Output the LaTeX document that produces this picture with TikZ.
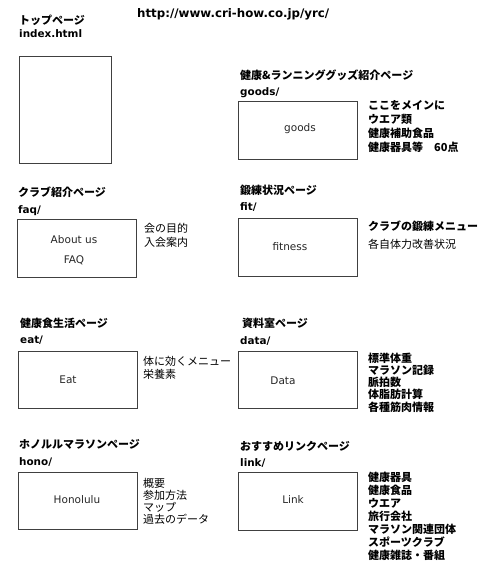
\documentclass[tikz,border=0pt]{standalone}
\usepackage{fontspec}
\setmainfont{DejaVu Sans}
\newfontfamily\jp{Noto Sans CJK JP}
\begin{document}
\begin{tikzpicture}[x=1pt,y=-1pt,
  jtitle/.style={anchor=base west, inner sep=0, font=\jp\bfseries\fontsize{11}{13}\selectfont},
  dirlbl/.style={anchor=base west, inner sep=0, font=\bfseries\fontsize{10.4}{12}\selectfont},
  pagebox/.style={draw=black!75, line width=0.8pt, anchor=north west, inner sep=0},
  boxlbl/.style={inner sep=0, align=center, text=black!85, font=\fontsize{10.5}{20}\selectfont},
  notes/.style={anchor=base west, inner sep=0, align=left, font=\jp\fontsize{11}{#1}\selectfont},
  bnotes/.style={anchor=base west, inner sep=0, align=left, font=\jp\bfseries\fontsize{11}{#1}\selectfont}
]
\useasboundingbox (0,0) rectangle (479,566);

% URL
\node[dirlbl, font=\bfseries\fontsize{11.8}{13}\selectfont] (url) at (137,17.5) {http://www.cri-how.co.jp/yrc/};

% top page
\node[jtitle] (toptitle) at (19,24) {トップページ};
\node[dirlbl] (topdir) at (19,37.5) {index.html};
\node[pagebox, minimum width=92pt, minimum height=107pt] (topbox) at (19,56) {};

% goods
\node[jtitle] (goodstitle) at (240,79) {健康\&ランニンググッズ紹介ページ};
\node[dirlbl] (goodsdir) at (240,95.5) {goods/};
\node[pagebox, minimum width=119pt, minimum height=58pt] (goodsbox) at (238,101) {};
\node[boxlbl] (goodslbl) at (300,129) {goods};
\node[bnotes=14] (goodsnotes) at (368,151) {ここをメインに\\ウエア類\\健康補助食品\\健康器具等　60点};

% faq
\node[jtitle] (faqtitle) at (18,196) {クラブ紹介ページ};
\node[dirlbl] (faqdir) at (18,213.5) {faq/};
\node[pagebox, minimum width=119pt, minimum height=58pt] (faqbox) at (17,219) {};
\node[boxlbl] (faqlbl) at (74,250) {About us\\FAQ};
\node[notes=14] (faqnotes) at (144,246) {会の目的\\入会案内};

% fit
\node[jtitle] (fittitle) at (240,194) {鍛練状況ページ};
\node[dirlbl] (fitdir) at (240,210.5) {fit/};
\node[pagebox, minimum width=119pt, minimum height=58pt] (fitbox) at (238,218) {};
\node[boxlbl] (fitlbl) at (290,247) {fitness};
\node[bnotes=13] (fitnotes1) at (368,230) {クラブの鍛練メニュー};
\node[notes=13] (fitnotes2) at (368,248) {各自体力改善状況};

% eat
\node[jtitle] (eattitle) at (20,327) {健康食生活ページ};
\node[dirlbl] (eatdir) at (20,343.5) {eat/};
\node[pagebox, minimum width=119pt, minimum height=57pt] (eatbox) at (18,351) {};
\node[boxlbl] (eatlbl) at (68,380) {Eat};
\node[notes=13] (eatnotes) at (143,378) {体に効くメニュー\\栄養素};

% data
\node[jtitle] (datatitle) at (242,327) {資料室ページ};
\node[dirlbl] (datadir) at (240,344.5) {data/};
\node[pagebox, minimum width=119pt, minimum height=57pt] (databox) at (238,351) {};
\node[boxlbl] (datalbl) at (283,381) {Data};
\node[bnotes=12.3] (datanotes) at (368,411.2) {標準体重\\マラソン記録\\脈拍数\\体脂肪計算\\各種筋肉情報};

% hono
\node[jtitle] (honotitle) at (19,448) {ホノルルマラソンページ};
\node[dirlbl] (honodir) at (19,465.5) {hono/};
\node[pagebox, minimum width=119pt, minimum height=57pt] (honobox) at (18,472) {};
\node[boxlbl] (honolbl) at (77,500) {Honolulu};
\node[notes=12.3] (hononotes) at (143,523.9) {概要\\参加方法\\マップ\\過去のデータ};

% link
\node[jtitle] (linktitle) at (240,450) {おすすめリンクページ};
\node[dirlbl] (linkdir) at (240,466.5) {link/};
\node[pagebox, minimum width=119pt, minimum height=58pt] (linkbox) at (238,472) {};
\node[boxlbl] (linklbl) at (293,500) {Link};
\node[bnotes=13] (linknotes) at (368,559) {健康器具\\健康食品\\ウエア\\旅行会社\\マラソン関連団体\\スポーツクラブ\\健康雑誌・番組};
\end{tikzpicture}
\end{document}
